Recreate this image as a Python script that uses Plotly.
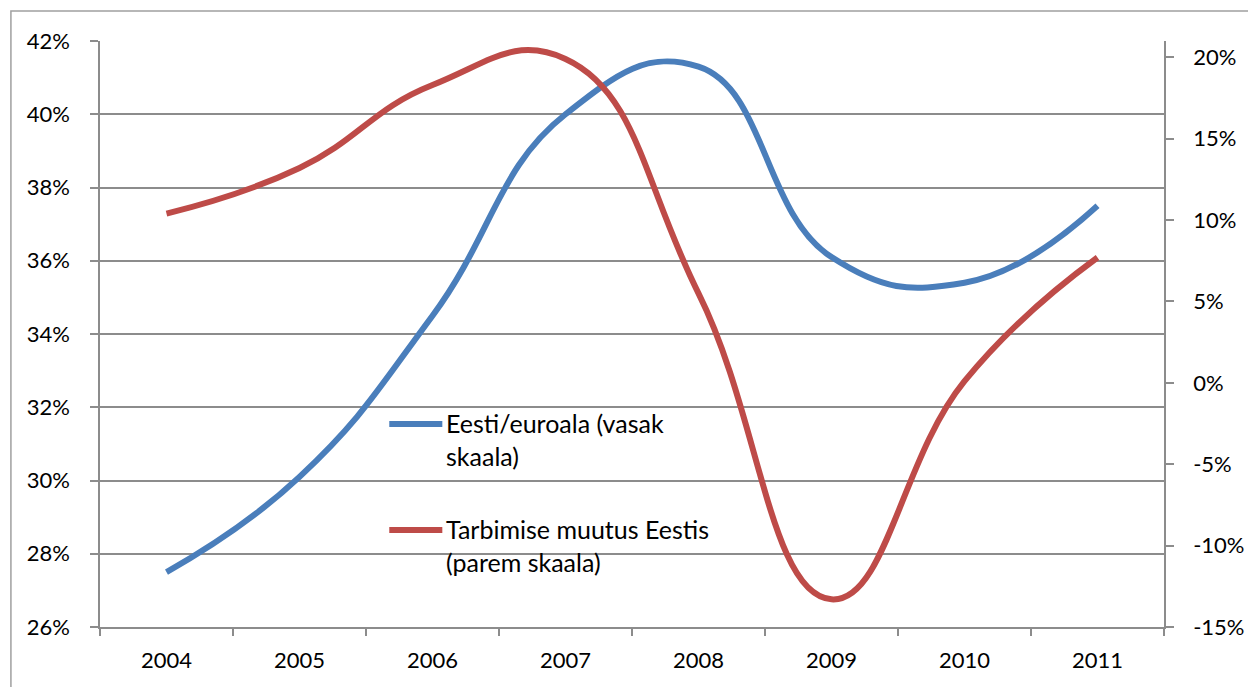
import plotly.graph_objects as go

years = ["2004", "2005", "2006", "2007", "2008", "2009", "2010", "2011"]
eesti_euroala = [0.275, 0.301, 0.345, 0.400, 0.413, 0.361, 0.354, 0.375]
tarbimise_muutus = [0.104, 0.132, 0.183, 0.199, 0.055, -0.133, 0.001, 0.077]

left_ticks = [0.26, 0.28, 0.30, 0.32, 0.34, 0.36, 0.38, 0.40, 0.42]
right_ticks = [-0.15, -0.10, -0.05, 0.0, 0.05, 0.10, 0.15, 0.20]
left_labels = [f"{round(v*100)}%" for v in left_ticks]
right_labels = [f"{round(v*100)}%" for v in right_ticks]

name_blue = "Eesti/euroala (vasak<br>skaala)"
name_red = "Tarbimise muutus Eestis<br>(parem skaala)"

BLUE = "#4A7EBB"
RED = "#BE4B48"
GRID = "#8C8C8C"
FONT = "Lato"
TICK_SIZE = 22
LEG_SIZE = 25

fig = go.Figure()
fig.add_trace(go.Scatter(x=years, y=eesti_euroala, mode="lines", name=name_blue,
                         line=dict(color=BLUE, width=6, shape="spline", smoothing=1.3),
                         yaxis="y", showlegend=False))
fig.add_trace(go.Scatter(x=years, y=tarbimise_muutus, mode="lines", name=name_red,
                         line=dict(color=RED, width=6, shape="spline", smoothing=1.3),
                         yaxis="y2", showlegend=False))

# figure is a little wider than the window; the extra strip is cut off.
# The right margin is expanded by automargin to ~93px for the right tick labels.
W, H = 1256, 687
L, R, T, B = 100, 85, 41, 60
R_EFF = 93
pw, ph = W - L - R_EFF, H - T - B

def px(x):
    return (x - L) / pw

def py(y):
    return (H - B - y) / ph

shapes = [
    dict(type="rect", xref="paper", yref="paper", x0=px(11), x1=px(1300), y0=py(740), y1=py(11),
         line=dict(color="#A0A0A0", width=1.5), fillcolor="rgba(0,0,0,0)", layer="below"),
    dict(type="line", xref="paper", yref="paper", x0=px(389), x1=px(442), y0=py(424), y1=py(424),
         line=dict(color=BLUE, width=6)),
    dict(type="line", xref="paper", yref="paper", x0=px(389), x1=px(442), y0=py(530), y1=py(530),
         line=dict(color=RED, width=6)),
]
annotations = [
    dict(xref="paper", yref="paper", x=px(444), y=py(424), text=name_blue, showarrow=False,
         xanchor="left", yanchor="top", yshift=18, align="left",
         font=dict(family=FONT, size=LEG_SIZE, color="#000000")),
    dict(xref="paper", yref="paper", x=px(444), y=py(530), text=name_red, showarrow=False,
         xanchor="left", yanchor="top", yshift=18, align="left",
         font=dict(family=FONT, size=LEG_SIZE, color="#000000")),
]

fig.update_layout(
    width=W, height=H,
    margin=dict(l=L, r=R, t=T, b=B),
    paper_bgcolor="white", plot_bgcolor="white",
    font=dict(family=FONT, size=TICK_SIZE, color="#000000"),
    shapes=shapes, annotations=annotations,
    xaxis=dict(type="category", range=[-0.5, 7.5], showgrid=False,
               showline=True, linecolor=GRID, linewidth=1.5,
               ticks="outside", tickson="boundaries", ticklen=7, tickcolor=GRID, tickwidth=1.5,
               tickfont=dict(size=TICK_SIZE), ticklabelstandoff=13),
    yaxis=dict(range=[0.26, 0.42], tickvals=left_ticks, ticktext=left_labels,
               showgrid=True, gridcolor=GRID, gridwidth=1.5,
               showline=True, linecolor=GRID, linewidth=1.5,
               ticks="outside", ticklen=8, tickcolor=GRID, tickwidth=1.5,
               zeroline=False, tickfont=dict(size=TICK_SIZE), ticklabelstandoff=16),
    yaxis2=dict(range=[-0.15, 0.21], tickvals=right_ticks, ticktext=right_labels,
                overlaying="y", side="right", showgrid=False,
                showline=True, linecolor=GRID, linewidth=1.5,
                ticks="outside", ticklen=8, tickcolor=GRID, tickwidth=1.5,
                zeroline=False, tickfont=dict(size=TICK_SIZE), ticklabelstandoff=15),
)

fig.write_html("out.html", config={"displayModeBar": False},
               post_script="document.body.style.margin='0px';document.body.style.overflow='hidden';")
